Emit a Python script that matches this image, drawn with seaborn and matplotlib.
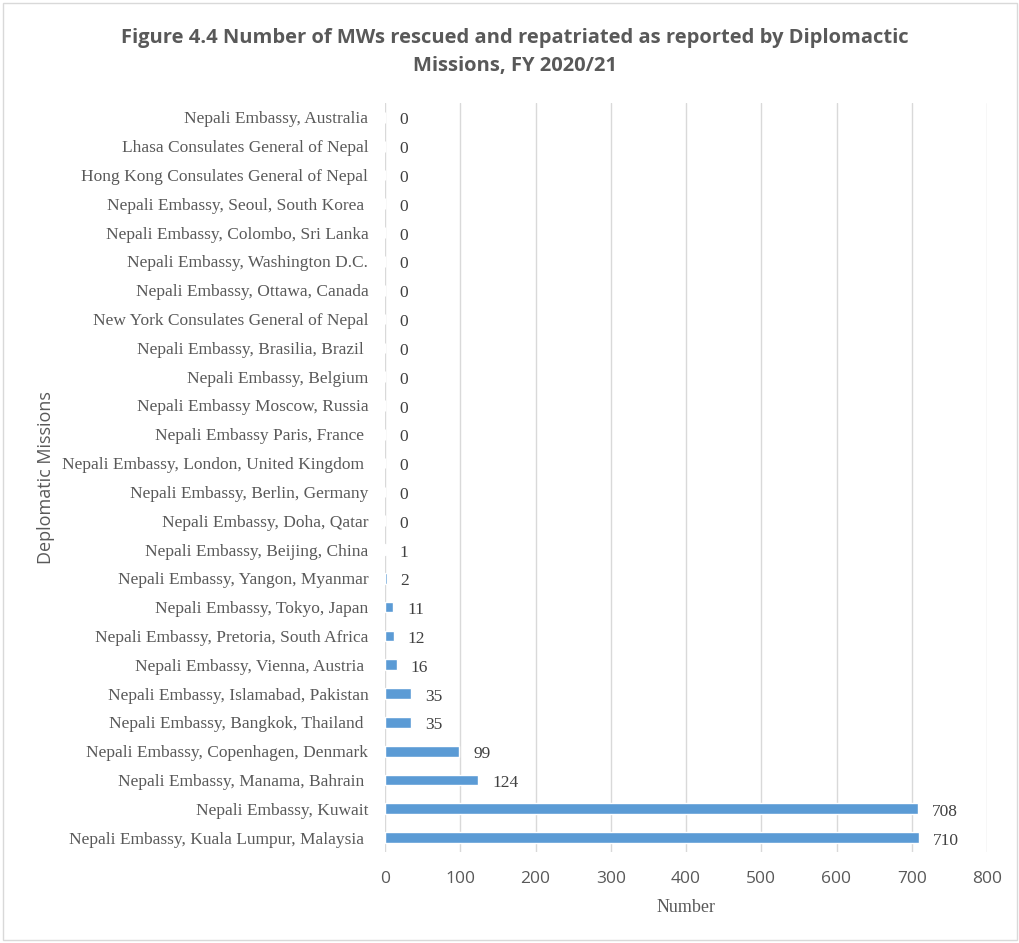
import matplotlib
matplotlib.use("Agg")
import matplotlib.pyplot as plt
import matplotlib.transforms as mtransforms
import seaborn as sns
import pandas as pd

missions = [
    "Nepali Embassy, Australia",
    "Lhasa Consulates General of Nepal",
    "Hong Kong Consulates General of Nepal",
    "Nepali Embassy, Seoul, South Korea ",
    "Nepali Embassy, Colombo, Sri Lanka",
    "Nepali Embassy, Washington D.C.",
    "Nepali Embassy, Ottawa, Canada",
    "New York Consulates General of Nepal",
    "Nepali Embassy, Brasilia, Brazil ",
    "Nepali Embassy, Belgium",
    "Nepali Embassy Moscow, Russia",
    "Nepali Embassy Paris, France ",
    "Nepali Embassy, London, United Kingdom ",
    "Nepali Embassy, Berlin, Germany",
    "Nepali Embassy, Doha, Qatar",
    "Nepali Embassy, Beijing, China",
    "Nepali Embassy, Yangon, Myanmar",
    "Nepali Embassy, Tokyo, Japan",
    "Nepali Embassy, Pretoria, South Africa",
    "Nepali Embassy, Vienna, Austria ",
    "Nepali Embassy, Islamabad, Pakistan",
    "Nepali Embassy, Bangkok, Thailand ",
    "Nepali Embassy, Copenhagen, Denmark",
    "Nepali Embassy, Manama, Bahrain ",
    "Nepali Embassy, Kuwait",
    "Nepali Embassy, Kuala Lumpur, Malaysia ",
]
numbers = [0, 0, 0, 0, 0, 0, 0, 0, 0, 0, 0, 0, 0, 0, 0, 1, 2, 11, 12, 16, 35, 35, 99, 124, 708, 710]
x_ticks = [0, 100, 200, 300, 400, 500, 600, 700, 800]

df = pd.DataFrame({"Mission": missions, "Number": numbers})

sns.set_style("white")
fig = plt.figure(figsize=(10.2, 9.43), dpi=100)
ax = fig.add_axes([385/1020, 1 - 852/943, (987-385)/1020, (852-103)/943])

sns.barplot(data=df, y="Mission", x="Number", orient="h", color="#5B9BD5",
            width=0.37, ax=ax, saturation=1)

ax.set_xlim(0, 800)
ax.set_xticks(x_ticks)
ax.set_xticklabels([str(t) for t in x_ticks], fontfamily="Open Sans", fontsize=12.5, color="#595959")
ax.tick_params(axis="x", length=0, pad=14)
ax.tick_params(axis="y", length=0, pad=12)

shift = mtransforms.ScaledTranslation(0, -2/100, fig.dpi_scale_trans)
for lab in ax.get_yticklabels():
    lab.set_fontfamily("Liberation Serif")
    lab.set_fontsize(12.5)
    lab.set_color("#595959")
    lab.set_verticalalignment("center")
for t in ax.yaxis.get_major_ticks():
    t.label1.set_transform(t.label1.get_transform() + shift)

ax.grid(axis="x", color="#D9D9D9", linewidth=1)
ax.set_axisbelow(True)
for s in ax.spines.values():
    s.set_visible(False)

for container in ax.containers:
    texts = ax.bar_label(container, labels=[str(v) for v in numbers], padding=10,
                         fontfamily="Liberation Serif", fontsize=12.5, color="#404040")
    for tx in texts:
        tx.xyann = (tx.xyann[0], tx.xyann[1] - 2.2)

ax.set_xlabel("Number", fontfamily="Liberation Serif", fontsize=13, color="#595959", labelpad=8)
ax.set_ylabel("Deplomatic Missions", fontfamily="Open Sans", fontsize=13, color="#595959")
ax.yaxis.set_label_coords(-330/602, 0.5)

fig.text(515/1020, 1 - 52/943, "Figure 4.4 Number of MWs rescued and repatriated as reported by Diplomactic\nMissions, FY 2020/21",
         ha="center", va="center", fontfamily="Open Sans", fontweight="bold", fontsize=14.5,
         color="#595959", linespacing=1.5)

fig.patches.append(plt.Rectangle((0.003, 0.003), 0.994, 0.994, transform=fig.transFigure,
                                 fill=False, edgecolor="#D9D9D9", linewidth=1))

fig.savefig("out.png", dpi=100)
